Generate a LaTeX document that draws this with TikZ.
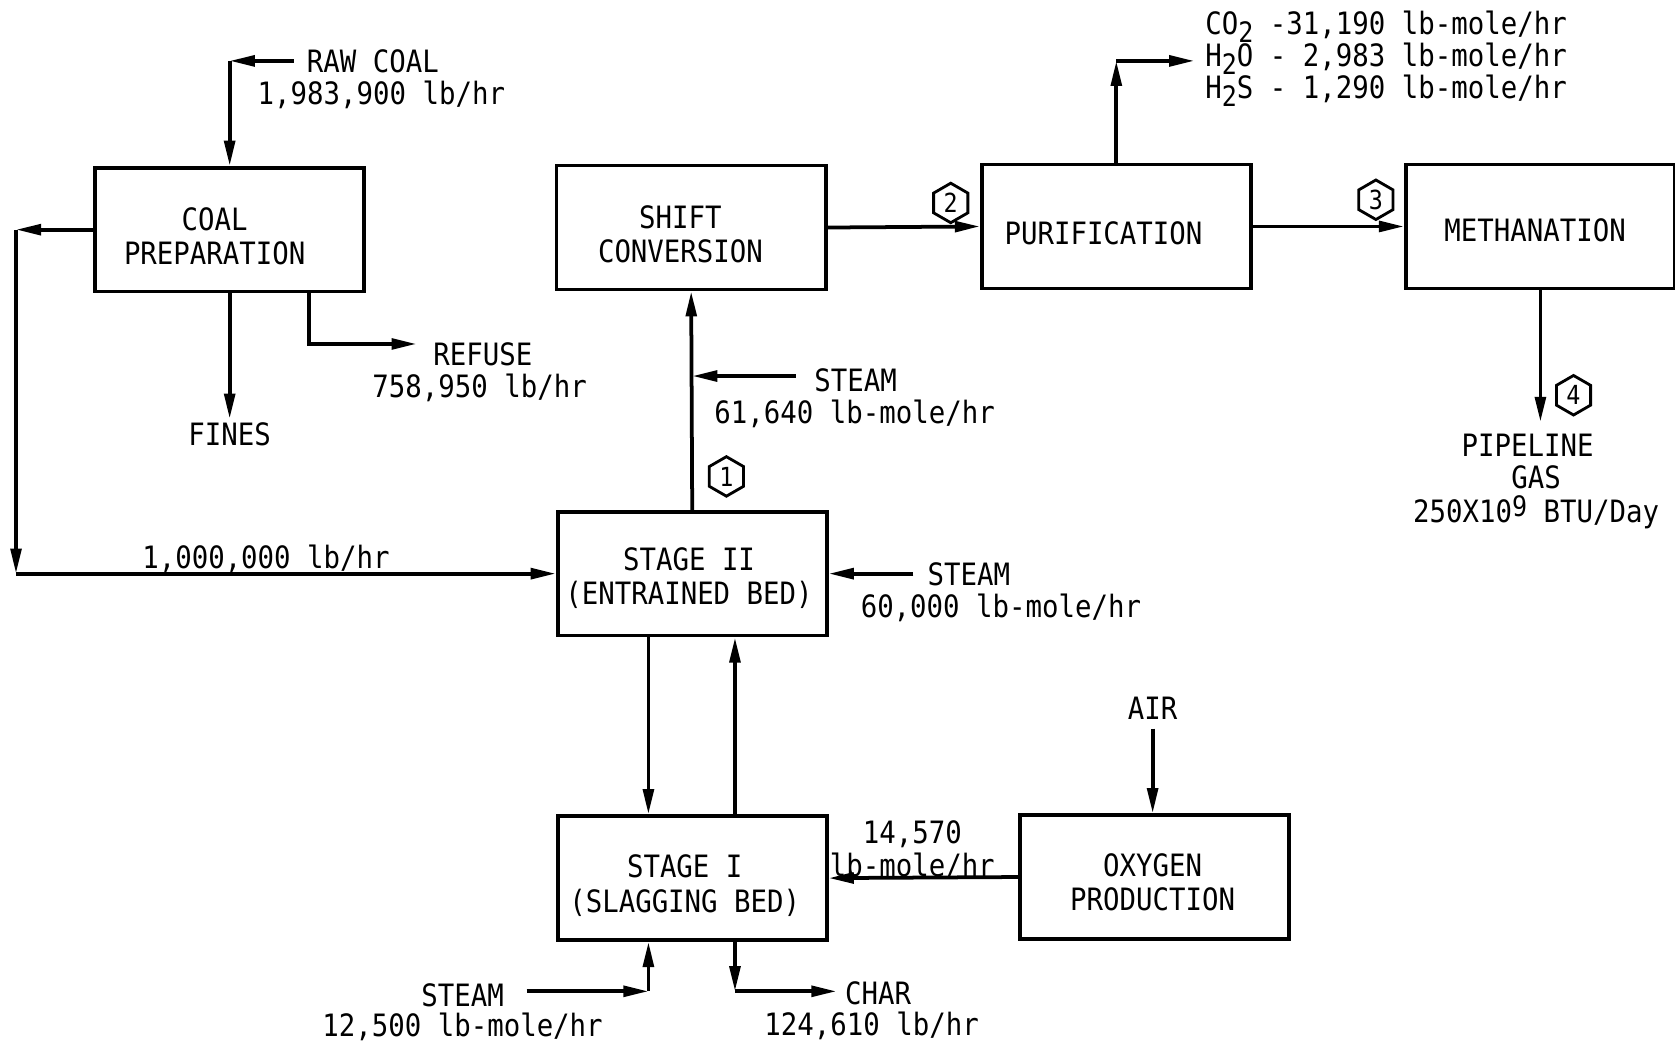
\documentclass[tikz,border=0pt]{standalone}
\usepackage{fontspec}
\setmainfont{DejaVu Sans Mono}[FakeStretch=0.89]
\usetikzlibrary{arrows.meta,shapes.geometric}
\newcommand{\sbt}[1]{\raisebox{-0.26em}{\fontsize{15}{15}\selectfont #1}}
\newcommand{\spt}[1]{\raisebox{0.2em}{\fontsize{15}{15}\selectfont #1}}
\tikzset{
  box/.style={draw, line width=2pt, minimum width=5.04cm, minimum height=2.32cm, inner sep=0pt},
  boxtxt/.style={align=center, inner sep=0pt},
  lbl/.style={inner sep=0pt, text height=11.9pt, text depth=0pt},
  flow/.style={line width=2pt, -{Triangle[length=0.47cm,width=0.2cm]}},
  hexa/.style={draw, regular polygon, regular polygon sides=6, shape border rotate=30, minimum size=0.74cm, inner sep=0pt, line width=1.5pt, font=\fontsize{14}{14}\selectfont},
}
\begin{document}
\begin{tikzpicture}[x=0.02cm, y=-0.02cm, font=\fontsize{16.4}{18.2}\selectfont]
\useasboundingbox (0,0) rectangle (1568,976);

% boxes
\node[box] (coal)   at (215,215)   {};
\node[box] (shift)  at (647,213)   {};
\node[box] (purif)  at (1045,212)  {};
\node[box] (meth)   at (1442,212)  {};
\node[box] (stage2) at (648,537)   {};
\node[box] (stage1) at (648,822)   {};
\node[box] (oxy)    at (1081,821)  {};

% box texts
\node[boxtxt] (coalT)   at (201,221)  {COAL\\PREPARATION};
\node[boxtxt] (shiftT)  at (637,219)  {SHIFT\\CONVERSION};
\node[lbl]    (purifT)  at (1033,218) {PURIFICATION};
\node[lbl]    (methT)   at (1437,216) {METHANATION};
\node[boxtxt] (stage2T) at (645,541)  {STAGE II\\(ENTRAINED BED)};
\node[boxtxt] (stage1T) at (641,829)  {STAGE I\\(SLAGGING BED)};
\node[boxtxt] (oxyT)    at (1079,826) {OXYGEN\\PRODUCTION};

% labels
\node[lbl] (rawc)  at (349,57)  {RAW COAL};
\node[lbl] (rawf)  at (357,87)  {1,983,900 lb/hr};
\node[lbl] (fines) at (215,407) {FINES};
\node[lbl] (refu)  at (452,332) {REFUSE};
\node[lbl] (reff)  at (449,362) {758,950 lb/hr};
\node[lbl] (st1)   at (801,356) {STEAM};
\node[lbl] (st1f)  at (800,386) {61,640 lb-mole/hr};
\node[lbl] (st2)   at (907,538) {STEAM};
\node[lbl] (st2f)  at (937,568) {60,000 lb-mole/hr};
\node[lbl] (mill)  at (249,522) {1,000,000 lb/hr};
\node[lbl, anchor=west] (co2) at (1128,22) {CO\sbt{2} -31,190 lb-mole/hr};
\node[lbl, anchor=west] (h2o) at (1128,52) {H\sbt{2}O - 2,983 lb-mole/hr};
\node[lbl, anchor=west] (h2s) at (1128,82) {H\sbt{2}S - 1,290 lb-mole/hr};
\node[lbl] (pipe1) at (1430,417) {PIPELINE};
\node[lbl] (pipe2) at (1438,447) {GAS};
\node[lbl] (pipe3) at (1438,479) {250X10\spt{9} BTU/Day};
\node[lbl] (air)   at (1079,663) {AIR};
\node[lbl] (oxf1)  at (854,779) {14,570};
\node[lbl] (oxf2)  at (854,810) {lb-mole/hr};
\node[lbl] (st3)   at (433,932) {STEAM};
\node[lbl] (st3f)  at (433,960) {12,500 lb-mole/hr};
\node[lbl] (char)  at (822,930) {CHAR};
\node[lbl] (charf) at (816,959) {124,610 lb/hr};

% hexagon stream numbers
\node[hexa] (h1) at (680,446)  {1};
\node[hexa] (h2) at (890,190)  {2};
\node[hexa] (h3) at (1288,187) {3};
\node[hexa] (h4) at (1473,370) {4};

% free ends and corners
\coordinate (rawS) at (275,57);
\coordinate (lp)   at (15,537);
\coordinate (finesE) at (211,392);
\coordinate (refS) at (289,273);
\coordinate (refE) at (390,322);
\coordinate (s1)   at (745,352);
\coordinate (s2)   at (855,537);
\coordinate (gasE) at (1118,57);
\coordinate (pipeE) at (1442,395);
\coordinate (dA)   at (607,0);
\coordinate (uB)   at (688,0);
\coordinate (s3)   at (493,928);
\coordinate (charE) at (783,928);
\coordinate (airS) at (1079,682);

% connectors
\draw[flow] (rawS) -- (rawS -| coal.north);
\draw[flow] (rawS -| coal.north) -- (coal.north);

\draw[flow] (coal.west) -- (lp |- coal.west);
\draw[flow] (lp |- coal.west) -- (lp);
\draw[flow] (lp) -- (stage2.west);

\draw[flow] (coal.south) -- (coal.south |- finesE);
\draw[flow] (refS) |- (refE);

\draw[flow] (stage2.north) -- (shift.south);
\draw[flow] (s1) -- (s1 -| stage2.north);
\draw[flow] (s2) -- (stage2.east);

\draw[flow] (shift.east) -- (purif.west);
\draw[flow] (purif.east) -- (meth.west);
\draw[flow] (purif.north) -- (purif.north |- gasE);
\draw[flow] (purif.north |- gasE) -- (gasE);
\draw[flow] (meth.south) -- (pipeE);

\draw[flow] (dA |- stage2.south) -- (dA |- stage1.north);
\draw[flow] (uB |- stage1.north) -- (uB |- stage2.south);

\draw[flow] (oxy.west) -- (stage1.east);
\draw[flow] (airS) -- (airS |- oxy.north);

\draw[flow] (s3) -- (s3 -| dA);
\draw[flow] (s3 -| dA) -- (dA |- stage1.south);
\draw[flow] (uB |- stage1.south) -- (uB |- charE);
\draw[flow] (uB |- charE) -- (charE);
\end{tikzpicture}
\end{document}
